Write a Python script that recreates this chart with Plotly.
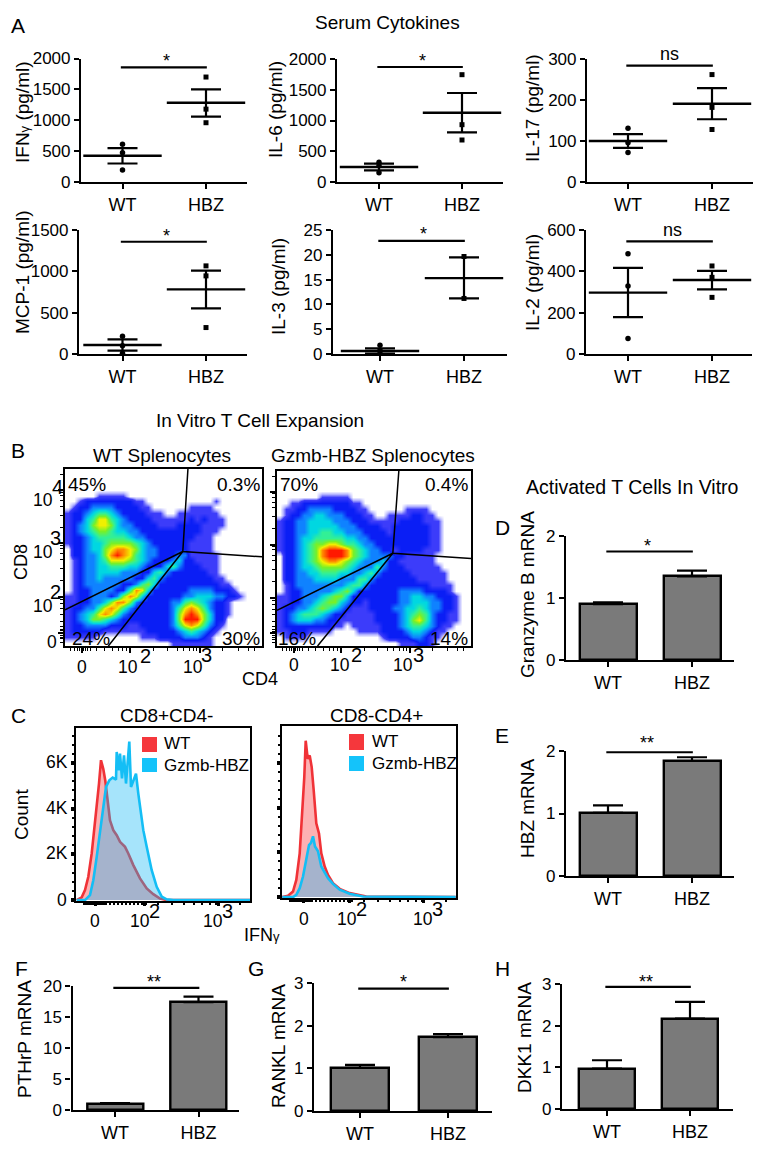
import plotly.graph_objects as go

W, H = 769, 1155
FONT = "Liberation Sans"
CATS = ["WT", "HBZ"]

# ---------- Panel A: serum cytokines (pg/ml) ----------
IFN_WT = [610, 475, 194]
IFN_HBZ = [1700, 1180, 960]
IFN_MEAN = [425, 1284]
IFN_UP = [125, 216]
IFN_DOWN = [125, 226]

IL6_WT = [320, 265, 151]
IL6_HBZ = [1745, 932, 683]
IL6_MEAN = [244, 1127]
IL6_UP = [54, 320]
IL6_DOWN = [54, 319]

IL17_WT = [131, 96, 72]
IL17_HBZ = [262, 182, 128]
IL17_MEAN = [100, 191]
IL17_UP = [17, 38]
IL17_DOWN = [17, 38]

MCP1_WT = [215, 100, 10]
MCP1_HBZ = [1066, 945, 320]
MCP1_MEAN = [109, 782]
MCP1_UP = [69, 227]
MCP1_DOWN = [68, 231]

IL3_WT = [1.76, 0.74, 0.1]
IL3_HBZ = [19.66, 11.2]
IL3_MEAN = [0.6, 15.3]
IL3_UP = [0.55, 4.2]
IL3_DOWN = [0.53, 4.1]

IL2_WT = [485, 329, 75]
IL2_HBZ = [426, 371, 274]
IL2_MEAN = [297, 358]
IL2_UP = [120, 44]
IL2_DOWN = [119, 45]

# ---------- Bar panels D-H (relative mRNA) ----------
GZMB_BAR = [0.90, 1.35]
GZMB_ERR = [0.03, 0.09]
HBZ_BAR = [1.01, 1.84]
HBZ_ERR = [0.12, 0.06]
PTHRP_BAR = [1.0, 17.4]
PTHRP_ERR = [0.1, 0.9]
RANKL_BAR = [1.01, 1.73]
RANKL_ERR = [0.07, 0.07]
DKK1_BAR = [0.97, 2.17]
DKK1_ERR = [0.2, 0.4]

# ---------- Panel B: flow density levels (0 empty ... 9 densest) ----------
WT_DENSITY = [
    "00000000000000000000000000000000",
    "00000000000000000000000000000000",
    "00000000000000000000000000000000",
    "00000000000000000000000000000000",
    "00000111110000000000000000000000",
    "00122222222110000000000010000000",
    "01223333222211000000111100000000",
    "12234554322221110011111110000000",
    "12245775432222111111212111000000",
    "12346776433222211122221111000000",
    "12345665443322222222221110000000",
    "12234555554332222222211100000000",
    "12234456666543222222111100000000",
    "02234467887643322222111100000000",
    "02233468987543322233111110000000",
    "01233457776543222342211110000000",
    "01233445554432224532221110000000",
    "01233444433322453222222110000000",
    "01233433333224532222222211000000",
    "01233333322356422222222221100000",
    "01223333225874222222333322210000",
    "11223332368742222223344433221000",
    "11223346886322222335654322100000",
    "12233578753222222357875322100000",
    "12345787532222222368986422100000",
    "12346654322222222369996422000000",
    "12233332221122222357875321000000",
    "12222211111112222234543210000000",
    "11111000000011122223332100000000",
    "00000000000000000111111100000000",
]
HBZ_DENSITY = [
    "00000000000000000000000000000000",
    "00000000000000000000000000000000",
    "00000000000000000000000000000000",
    "00000000000000000000000000000000",
    "00000001111100000000000000000000",
    "00112222222211000000000000000000",
    "01122333322221100000011110000000",
    "01223344333222110011112211000000",
    "12233444433322211111222211100000",
    "12233444443332222112222221100000",
    "12233445544333222212222221100000",
    "12234455555443322222222221100000",
    "12234566776554332222222221100000",
    "12234568999865433221222211100000",
    "02234568999865433332211111000000",
    "02234567887654333422111111000000",
    "02234456666543335322211111100000",
    "02233445554433453222221111110000",
    "02233344443335532222222111110000",
    "01233333333455322222222221111000",
    "01223333345642222222333322221000",
    "11223334566422222222334433222100",
    "11223345664322122222334443322100",
    "12233456543211122223344543322100",
    "12345554322111112222345653221100",
    "12344433221111112222346753221100",
    "12222222211011111222345543211000",
    "11222111100001111222234432110000",
    "01111000000000000122223321100000",
    "00000000000000000000111221000000",
]
WT_GATE_X = [62.4, 59.8, 100, None, 0, 59.8, 22]
WT_GATE_Y = [100, 53.4, 50.4, None, 20.4, 53.4, 0]
HBZ_GATE_X = [62.8, 59.7, 100, None, 0, 59.7, 20.9]
HBZ_GATE_Y = [100, 53, 50, None, 20.4, 53, 0]
FLOW_X_MAJOR = [8.7, 33, 68.5]
FLOW_X_MINOR = [3, 5, 6.5, 7.5, 9.5, 10.5, 11.5, 13, 16, 20, 24, 27, 29, 31, 45, 52, 57, 60, 63, 65, 67, 80, 88, 93, 96]
FLOW_Y_MAJOR = [7.3, 27.7, 58, 88]
FLOW_Y_MINOR = [2, 4, 5, 6, 8.5, 9.5, 11, 14, 18, 21, 24, 26, 37, 44, 49, 52, 55, 57, 67, 74, 79, 82, 85, 87, 97]

# ---------- Panel C: histograms (channel, count in thousands) ----------
L_WT_CH = [0.7, 5.7, 9, 12.3, 15.7, 19, 21.3, 23, 25, 27.3, 29.3, 31.3, 34, 37.3, 40.7, 44, 49, 52.3, 57.3, 64, 70.7, 77.3, 84, 90.7, 174]
L_WT_K = [0, 0.12, 0.44, 1.02, 2.04, 3.35, 4.37, 5.10, 6.12, 5.73, 5.22, 4.51, 3.49, 3.06, 2.84, 2.55, 2.33, 2.04, 1.53, 0.95, 0.51, 0.26, 0.07, 0, 0]
L_HBZ_CH = [0.7, 9, 14, 17.3, 20.7, 24, 27.3, 30, 33.3, 36.7, 40, 40.7, 42.7, 44, 46, 48, 50, 52, 53.3, 55, 57.3, 60, 62.3, 64.7, 67.3, 70.7, 75.7, 80.7, 85.7, 90.7, 97.3, 174]
L_HBZ_K = [0, 0, 0.22, 0.87, 1.89, 3.06, 4.08, 4.95, 5.24, 5.36, 5.27, 6.48, 5.68, 6.41, 5.32, 6.33, 5.10, 6.26, 6.94, 4.95, 5.24, 5.53, 4.66, 3.78, 3.06, 2.33, 1.31, 0.58, 0.15, 0.03, 0, 0]
R_WT_CH = [0.3, 6, 11, 14.3, 17.7, 19.7, 21, 22.3, 23.7, 25.7, 27.7, 29.7, 31.7, 34.3, 37, 39.3, 42.7, 46, 51, 57.7, 67.7, 77.7, 84.3, 173.7]
R_WT_K = [0, 0.06, 0.25, 0.77, 1.96, 3.30, 4.63, 5.38, 7.0, 6.19, 6.34, 5.82, 4.78, 3.30, 2.85, 1.96, 1.37, 0.99, 0.62, 0.37, 0.18, 0.07, 0.03, 0]
R_HBZ_CH = [0.3, 11, 14.3, 17.7, 21, 23, 25, 27, 29, 31, 33, 36, 39.3, 42.7, 46, 51, 57.7, 67.7, 81, 173.7]
R_HBZ_K = [0, 0, 0.10, 0.40, 0.92, 1.37, 1.96, 2.33, 2.43, 2.72, 2.27, 2.05, 1.37, 1.07, 0.85, 0.59, 0.33, 0.15, 0.03, 0]
HIST_L_MAJOR = [19, 68, 142]
HIST_R_MAJOR = [21, 67, 141]
HIST_X_MINOR = [8, 10, 12, 14, 16, 18, 20, 22, 24, 26, 28, 30, 34, 38, 42, 46, 50, 54, 58, 62, 66, 70, 82, 96, 108, 118, 126, 134, 140, 164]
HIST_Y_MAJOR = [0, 2, 4, 6]
HIST_Y_MINOR = [0.4, 0.8, 1.2, 1.6, 2.4, 2.8, 3.2, 3.6, 4.4, 4.8, 5.2, 5.6, 6.4, 6.8, 7.2]

RED = "rgb(240,50,55)"
BLUE = "rgb(20,190,245)"
RED_FILL = "rgba(250,60,65,0.40)"
BLUE_FILL = "rgba(20,185,245,0.38)"
JET = [
    [0.0, "rgb(255,255,255)"],
    [0.5 / 9, "rgb(175,175,255)"],
    [1 / 9, "rgb(60,60,250)"],
    [2 / 9, "rgb(10,30,245)"],
    [3 / 9, "rgb(15,130,255)"],
    [4 / 9, "rgb(0,215,225)"],
    [5 / 9, "rgb(50,240,150)"],
    [6 / 9, "rgb(120,240,40)"],
    [7 / 9, "rgb(240,240,0)"],
    [8 / 9, "rgb(255,140,0)"],
    [1.0, "rgb(255,25,0)"],
]

fig = go.Figure()
layout = {}
annos = []
shapes = []
counter = [0]


def px(x):
    return x / W


def py(y):
    return 1 - y / H


def text(x, y, s, size=18, angle=0, anchor="center"):
    annos.append(dict(x=px(x), y=py(y), xref="paper", yref="paper", text=s, showarrow=False,
                      font=dict(family=FONT, size=size, color="black"), textangle=angle,
                      xanchor=anchor, yanchor="middle", align="center"))


def axes(left, right, top, bottom, xcfg, ycfg):
    counter[0] += 1
    n = counter[0]
    sx = "" if n == 1 else str(n)
    base = dict(showgrid=False, zeroline=False, color="black", automargin=False,
                tickfont=dict(family=FONT, size=17, color="black"))
    layout["xaxis" + sx] = dict(base, domain=[px(left), px(right)], anchor="y" + sx, **xcfg)
    layout["yaxis" + sx] = dict(base, domain=[py(bottom), py(top)], anchor="x" + sx, **ycfg)
    return "x" + sx, "y" + sx


def cat_axes(left, right, top, bottom, wt, hbz, ymax, yticks):
    xr = [(left - wt) / (hbz - wt), (right - wt) / (hbz - wt)]
    xc = dict(range=xr, tickvals=[0, 1], ticktext=CATS, ticks="outside", ticklen=5, tickwidth=2,
              showline=True, linewidth=2.2, linecolor="black", tickfont=dict(family=FONT, size=18, color="black"))
    yc = dict(range=[0, ymax], tickvals=yticks, ticks="outside", ticklen=5, tickwidth=2,
              showline=True, linewidth=2.2, linecolor="black")
    return axes(left, right, top, bottom, xc, yc)


def sig(xa, ya, yv, x0, x1):
    fig.add_trace(go.Scatter(x=[x0, x1], y=[yv, yv], mode="lines", xaxis=xa, yaxis=ya,
                             line=dict(color="black", width=2.2), cliponaxis=False, showlegend=False))


def dots(left, right, top, bottom, wt, hbz, ymax, yticks, vwt, vhbz, mean, up, down, sigv, mark, mx, my, title, tx, ty):
    xa, ya = cat_axes(left, right, top, bottom, wt, hbz, ymax, yticks)
    fig.add_trace(go.Scatter(x=[0] * len(vwt), y=vwt, mode="markers", xaxis=xa, yaxis=ya, cliponaxis=False,
                             marker=dict(symbol="circle", size=5.5, color="black"), showlegend=False))
    fig.add_trace(go.Scatter(x=[1] * len(vhbz), y=vhbz, mode="markers", xaxis=xa, yaxis=ya, cliponaxis=False,
                             marker=dict(symbol="square", size=5, color="black"), showlegend=False))
    fig.add_trace(go.Scatter(x=[0, 1], y=mean, mode="markers", xaxis=xa, yaxis=ya, cliponaxis=False,
                             marker=dict(symbol="line-ew", size=56, color="black", line=dict(width=2.4, color="black")),
                             error_y=dict(type="data", symmetric=False, array=up, arrayminus=down, thickness=2.2,
                                          width=15, color="black"), showlegend=False))
    sig(xa, ya, sigv, -0.02, 1.01)
    text(mx, my, mark, size=18)
    text(tx, ty, title, size=19, angle=-90)


def bars(left, right, top, bottom, wt, hbz, ymax, yticks, vals, errs, barpx, sigv, mark, mx, my, title, tx, ty):
    xa, ya = cat_axes(left, right, top, bottom, wt, hbz, ymax, yticks)
    fig.add_trace(go.Bar(x=[0, 1], y=vals, width=barpx / (hbz - wt), xaxis=xa, yaxis=ya, cliponaxis=False,
                         marker=dict(color="rgb(122,122,122)", line=dict(color="black", width=2.4)),
                         error_y=dict(type="data", symmetric=False, array=errs, arrayminus=[0, 0], thickness=2.2,
                                      width=15, color="black"), showlegend=False))
    sig(xa, ya, sigv, -0.02, 1.01)
    text(mx, my, mark, size=18)
    text(tx, ty, title, size=19, angle=-90)


G = "<span style='font-size:13px'>γ</span>"

# Panel A
dots(81, 247, 58.5, 182, 122.5, 206, 2000, [0, 500, 1000, 1500, 2000], IFN_WT, IFN_HBZ, IFN_MEAN, IFN_UP, IFN_DOWN,
     1855, "*", 166, 61, "IFN" + G + " (pg/ml)", 23, 112)
dots(337, 503, 59, 182, 379, 462, 2000, [0, 500, 1000, 1500, 2000], IL6_WT, IL6_HBZ, IL6_MEAN, IL6_UP, IL6_DOWN,
     1870, "*", 422, 61, "IL-6 (pg/ml)", 275, 110)
dots(587, 753, 59, 182, 628, 712, 300, [0, 100, 200, 300], IL17_WT, IL17_HBZ, IL17_MEAN, IL17_UP, IL17_DOWN,
     284, "ns", 669, 54, "IL-17 (pg/ml)", 532, 108)
dots(79, 247, 230, 354, 122.5, 206, 1500, [0, 500, 1000, 1500], MCP1_WT, MCP1_HBZ, MCP1_MEAN, MCP1_UP, MCP1_DOWN,
     1358, "*", 166, 236, "MCP-1 (pg/ml)", 22, 272)
dots(333, 507, 230, 354, 380, 464, 25, [0, 5, 10, 15, 20, 25], IL3_WT, IL3_HBZ, IL3_MEAN, IL3_UP, IL3_DOWN,
     22.8, "*", 423, 234, "IL-3 (pg/ml)", 278, 287)
dots(586, 752, 230, 354, 628, 712, 600, [0, 200, 400, 600], IL2_WT, IL2_HBZ, IL2_MEAN, IL2_UP, IL2_DOWN,
     545, "ns", 672, 230, "IL-2 (pg/ml)", 532, 283)

# Panels D-H
bars(566, 734, 536, 660, 608, 692, 2, [0, 1, 2], GZMB_BAR, GZMB_ERR, 57, 1.75, "*", 647, 546, "Granzyme B mRNA", 527, 595)
bars(566, 734, 751, 876, 608, 692, 2, [0, 1, 2], HBZ_BAR, HBZ_ERR, 57, 1.98, "**", 647, 743, "HBZ mRNA", 527, 808)
bars(72.5, 239, 986, 1110, 115, 198.5, 20, [0, 5, 10, 15, 20], PTHRP_BAR, PTHRP_ERR, 56, 19.7, "**", 154, 982, "PTHrP mRNA", 24, 1039)
bars(314, 492, 983, 1111, 360, 448, 3, [0, 1, 2, 3], RANKL_BAR, RANKL_ERR, 58, 2.87, "*", 403, 982, "RANKL mRNA", 278, 1046)
bars(562, 733, 984, 1109, 607, 690, 3, [0, 1, 2, 3], DKK1_BAR, DKK1_ERR, 56, 2.93, "**", 646, 982, "DKK1 mRNA", 524, 1038)


# Panel B
def flow(left, right, top, bottom, rows, gx, gy):
    box = dict(showline=True, linewidth=1.5, linecolor="black", mirror=True, range=[0, 100],
               ticks="outside", ticklen=5, tickwidth=2, showticklabels=False)
    xa, ya = axes(left, right, top, bottom,
                  dict(box, tickvals=FLOW_X_MAJOR, minor=dict(tickvals=FLOW_X_MINOR, ticks="outside", ticklen=3, tickwidth=1, tickcolor="black")),
                  dict(box, tickvals=FLOW_Y_MAJOR, minor=dict(tickvals=FLOW_Y_MINOR, ticks="outside", ticklen=3, tickwidth=1, tickcolor="black")))
    nr, nc = len(rows), len(rows[0])
    z = [[int(ch) for ch in r] for r in rows]
    fig.add_trace(go.Heatmap(z=z, x=[(c + 0.5) / nc * 100 for c in range(nc)],
                             y=[100 - (r + 0.5) / nr * 100 for r in range(nr)],
                             xaxis=xa, yaxis=ya, colorscale=JET, zmin=0, zmax=9, zsmooth="best",
                             showscale=False, hoverinfo="skip"))
    fig.add_trace(go.Scatter(x=gx, y=gy, mode="lines", xaxis=xa, yaxis=ya,
                             line=dict(color="black", width=1.5), showlegend=False))


flow(65, 262, 469, 646, WT_DENSITY, WT_GATE_X, WT_GATE_Y)
flow(277, 471, 471, 646, HBZ_DENSITY, HBZ_GATE_X, HBZ_GATE_Y)

for x, y, s in [(87, 484, "45%"), (238, 484, "0.3%"), (91, 638, "24%"), (241, 638, "30%"),
                (299, 484, "70%"), (446, 484, "0.4%"), (297, 638, "16%"), (449, 638, "14%")]:
    text(x, y, s, size=19)
for x, y, s in [(82, 667, "0"), (128, 667, "10"), (193, 667, "10"), (294, 665, "0"), (340, 665, "10"), (403, 665, "10"),
                (43, 500, "10"), (43, 552, "10"), (43, 606, "10"), (52, 642, "0")]:
    text(x, y, s, size=17.5)
for x, y, s in [(145, 656, "2"), (207, 655, "3"), (356, 655, "2"), (419, 655, "3"),
                (57, 487, "4"), (55, 538, "3"), (55, 592, "2")]:
    text(x, y, s, size=20)
text(21, 562, "CD8", size=18, angle=-90)
text(260, 679, "CD4", size=18)
text(162, 455, "WT Splenocytes", size=19)
text(373, 455, "Gzmb-HBZ Splenocytes", size=19)
text(260, 421, "In Vitro T Cell Expansion", size=19)


# Panel C
def hist(left, right, top, bottom, ymin, ymax, major, wx, wy, bx, by, show_labels):
    xc = dict(range=[0, right - left], showline=True, linewidth=1.5, linecolor="black", mirror=True,
              tickvals=major, showticklabels=False, ticks="outside", ticklen=3, tickwidth=3,
              minor=dict(tickvals=HIST_X_MINOR, ticks="outside", ticklen=2, tickwidth=1.5, tickcolor="black"))
    yc = dict(range=[ymin, ymax], showline=True, linewidth=1.5, linecolor="black", mirror=True,
              tickvals=HIST_Y_MAJOR, showticklabels=False, ticks="outside", ticklen=3, tickwidth=3.5,
              minor=dict(tickvals=HIST_Y_MINOR, ticks="outside", ticklen=2, tickwidth=1.5, tickcolor="black"))
    xa, ya = axes(left, right, top, bottom, xc, yc)
    fig.add_trace(go.Scatter(x=wx, y=wy, mode="lines", xaxis=xa, yaxis=ya, fill="tozeroy", fillcolor=RED_FILL,
                             line=dict(color=RED, width=2.6), showlegend=False))
    fig.add_trace(go.Scatter(x=bx, y=by, mode="lines", xaxis=xa, yaxis=ya, fill="tozeroy", fillcolor=BLUE_FILL,
                             line=dict(color=BLUE, width=2.6), showlegend=False))


hist(76, 250, 728, 901, -0.04, 7.53, HIST_L_MAJOR, L_WT_CH, L_WT_K, L_HBZ_CH, L_HBZ_K, True)
hist(282, 456, 726, 898, -0.04, 7.66, HIST_R_MAJOR, R_WT_CH, R_WT_K, R_HBZ_CH, R_HBZ_K, False)

for x0, x1, y0, y1, c in [(142, 157, 737, 752, "rgb(245,55,60)"), (142, 157, 758, 772, "rgb(20,195,250)"),
                          (349, 364, 734, 750, "rgb(245,55,60)"), (349, 364, 756, 771, "rgb(20,195,250)")]:
    shapes.append(dict(type="rect", xref="paper", yref="paper", x0=px(x0), x1=px(x1), y0=py(y0), y1=py(y1),
                       fillcolor=c, line=dict(width=0), layer="above"))
text(162, 743, "WT", size=17, anchor="left")
text(162, 765, "Gzmb-HBZ", size=17, anchor="left")
text(370, 741, "WT", size=17, anchor="left")
text(370, 763, "Gzmb-HBZ", size=17, anchor="left")

for x, y, s in [(57, 762, "6K"), (57, 808, "4K"), (57, 853, "2K"), (62, 900, "0"),
                (95, 921, "0"), (140, 921, "10"), (213, 921, "10"),
                (304, 919, "0"), (347, 919, "10"), (423, 919, "10")]:
    text(x, y, s, size=17.5)
for x, y, s in [(154, 911, "2"), (227, 911, "3"), (361, 909, "2"), (437, 909, "3")]:
    text(x, y, s, size=20)
text(166, 715, "CD8+CD4-", size=19)
text(376, 715, "CD8-CD4+", size=19)
text(21, 815, "Count", size=19, angle=-90)
text(262, 935, "IFN" + G, size=18)

# Titles and panel letters
text(387, 23, "Serum Cytokines", size=19)
text(632, 487, "Activated T Cells In Vitro", size=19.5)
for x, y, s in [(18, 25, "A"), (18, 451, "B"), (18, 715, "C"), (502, 527, "D"), (502, 735, "E"),
                (21, 969, "F"), (256, 969, "G"), (502, 969, "H")]:
    text(x, y, s, size=21)

fig.update_layout(width=W, height=H, autosize=False, margin=dict(l=0, r=0, t=0, b=0, pad=0),
                  paper_bgcolor="white", plot_bgcolor="white", showlegend=False, bargap=0,
                  annotations=annos, shapes=shapes, font=dict(family=FONT, color="black"), **layout)
fig.write_html("out.html", post_script="document.body.style.margin='0';", config={"displayModeBar": False})
